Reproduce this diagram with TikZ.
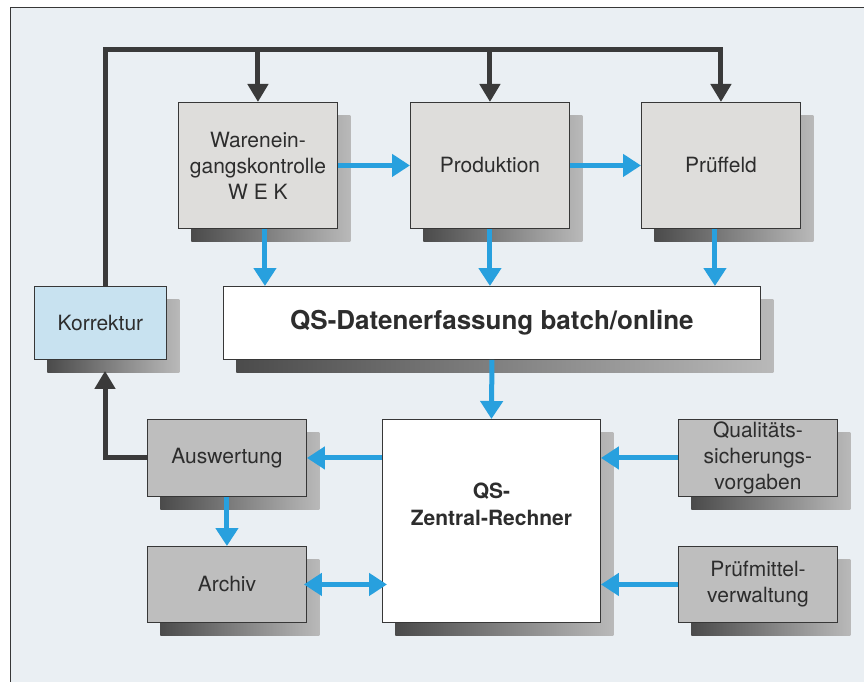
\documentclass[tikz,border=0pt]{standalone}
\usepackage{fontspec}
\setmainfont{TeX Gyre Heros}
\usetikzlibrary{arrows.meta,shadows}

\definecolor{bgblue}{RGB}{234,239,243}
\definecolor{framegray}{RGB}{55,55,55}
\definecolor{textgray}{RGB}{45,45,45}
\definecolor{boxlight}{RGB}{222,221,219}
\definecolor{boxdark}{RGB}{190,190,190}
\definecolor{korrblue}{RGB}{200,226,240}
\definecolor{arrowblue}{RGB}{40,160,222}
\definecolor{arrowdark}{RGB}{58,58,58}
\definecolor{shadowdark}{RGB}{75,75,75}
\definecolor{shadowlight}{RGB}{185,185,185}

\tikzstyle{block}=[rectangle,
    draw=framegray,
    line width=0.9pt,
    fill=boxlight,
    inner sep=0pt,
    anchor=north west,
    align=center,
    text=textgray,
    font=\fontsize{21}{26}\selectfont,
    general shadow={shadow xshift=13pt, shadow yshift=-13pt,
        left color=shadowdark, right color=shadowlight}]
\tikzstyle{topblock}=[block, minimum width=159pt, minimum height=126pt]
\tikzstyle{lowblock}=[block, fill=boxdark, minimum width=159pt, minimum height=77pt]
\tikzstyle{whiteblock}=[block, fill=white, font=\bfseries\fontsize{21}{27}\selectfont]
\tikzstyle{bluearrow}=[line width=5pt, draw=arrowblue,
    >={Triangle[width=22pt,length=18pt]}, ->]
\tikzstyle{darkarrow}=[line width=5pt, draw=arrowdark,
    >={Triangle[width=20pt,length=18pt]}, ->]

\begin{document}
\begin{tikzpicture}[x=1pt,y=-1pt]
    \useasboundingbox (0,0) rectangle (864,682);
    \fill[bgblue] (10,8) rectangle (864,682);
    \draw[framegray, line width=1pt] (864,8) -- (10,8) -- (10,682);

    \node (wek) [topblock] at (178,102) {Warenein-\\gangskontrolle\\W E K};
    \node (prod) [topblock] at (410,102) {Produktion};
    \node (pruef) [topblock] at (641,102) {Prüffeld};
    \node (daten) [whiteblock, minimum width=537pt, minimum height=73pt,
        font=\bfseries\fontsize{26}{30}\selectfont] at (223,286) {QS-Datenerfassung batch/online};
    \node (korr) [block, fill=korrblue, minimum width=132pt, minimum height=73pt] at (34,286) {Korrektur};
    \node (ausw) [lowblock] at (147,419) {Auswertung};
    \node (archiv) [lowblock, minimum height=76pt] at (147,546) {Archiv};
    \node (zentral) [whiteblock, minimum width=218pt, minimum height=203pt, text depth=34pt] at (382,419) {QS-\\Zentral-Rechner};
    \node (quali) [lowblock] at (678,419) {Qualitäts-\\sicherungs-\\vorgaben};
    \node (pmv) [lowblock, minimum height=76pt] at (678,546) {Prüfmittel-\\verwaltung};

    \coordinate (bus) at (105,50);
    \coordinate (wekout) at ([xshift=7pt]wek.south);
    \coordinate (pruefout) at ([xshift=-6pt]pruef.south);

    \draw[darkarrow] (korr.north -| bus) |- (pruef.north |- bus) -- (pruef.north);
    \draw[darkarrow] (wek.north |- bus) -- (wek.north);
    \draw[darkarrow] (prod.north |- bus) -- (prod.north);
    \draw[darkarrow, shorten >=11pt] (ausw.west) -| (korr.south -| bus);

    \draw[bluearrow] (wek.east) -- (prod.west);
    \draw[bluearrow] (prod.east) -- (pruef.west);
    \draw[bluearrow] (wekout) -- (wekout |- daten.north);
    \draw[bluearrow] (prod.south) -- (prod.south |- daten.north);
    \draw[bluearrow] (pruefout) -- (pruefout |- daten.north);
    \draw[bluearrow] (daten.south) -- (zentral.north);
    \draw[bluearrow] (zentral.west |- ausw.east) -- (ausw.east);
    \draw[bluearrow] (ausw.south) -- (archiv.north);
    \draw[bluearrow, <->, shorten <=-3pt, shorten >=-5pt] (archiv.east) -- (zentral.west |- archiv.east);
    \draw[bluearrow] (quali.west) -- (zentral.east |- quali.west);
    \draw[bluearrow] (pmv.west) -- (zentral.east |- pmv.west);
\end{tikzpicture}
\end{document}
